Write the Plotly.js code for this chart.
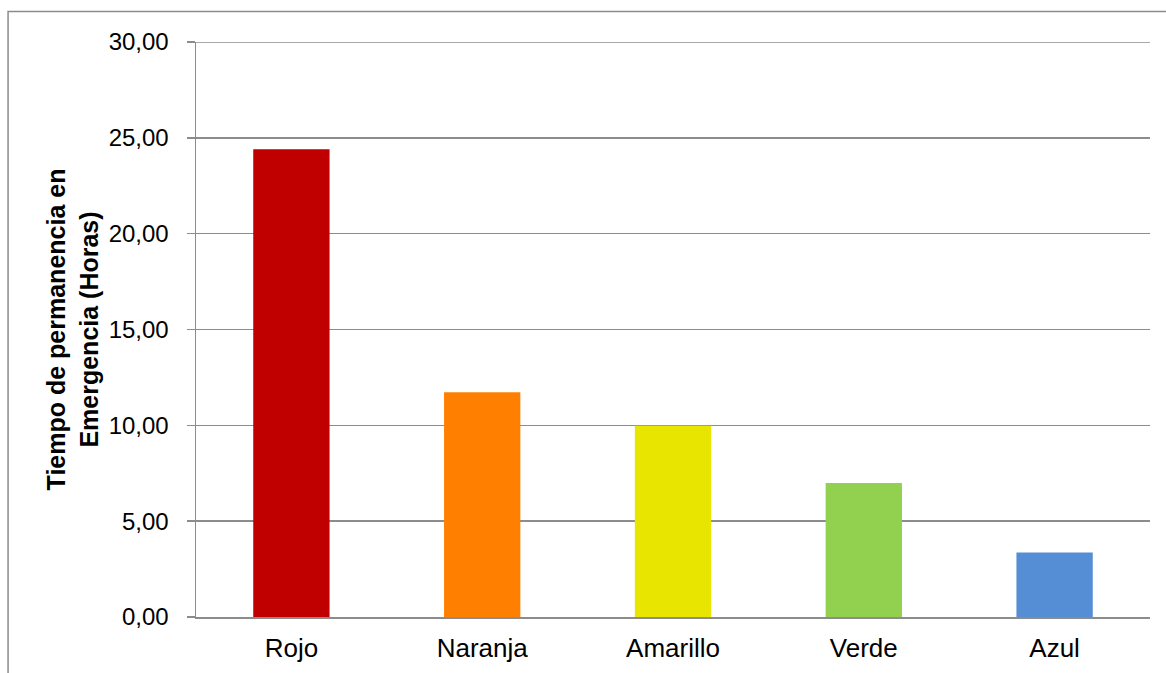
<!DOCTYPE html>
<html>
<head>
<meta charset="utf-8">
<script src="https://cdn.plot.ly/plotly-3.0.1.min.js"></script>
<style>html,body{margin:0;padding:0;background:#fff;}#chart{width:1166px;height:673px;}</style>
</head>
<body>
<div id="chart"></div>
<script>
const categories = ["Rojo", "Naranja", "Amarillo", "Verde", "Azul"];
const values = [24.40, 11.72, 9.98, 6.99, 3.37];
const barColors = ["#C00000", "#FF8000", "#E8E600", "#92D050", "#558ED5"];
const yTickVals = [0, 5, 10, 15, 20, 25, 30];
const yTickText = ["0,00", "5,00", "10,00", "15,00", "20,00", "25,00", "30,00"];
const yTitle = "Tiempo de permanencia en<br>Emergencia (Horas)";

const trace = {
  type: "bar",
  x: categories,
  y: values,
  marker: { color: barColors, line: { width: 0 } },
  hoverinfo: "x+y"
};

const layout = {
  width: 1166,
  height: 673,
  margin: { l: 196, r: 16, t: 42, b: 56, pad: 0 },
  paper_bgcolor: "#ffffff",
  plot_bgcolor: "#ffffff",
  bargap: 0.6,
  showlegend: false,
  font: { family: "Liberation Sans, Arial, sans-serif", color: "#000000", size: 24 },
  xaxis: {
    type: "category",
    showgrid: false,
    showline: true,
    linecolor: "#8c8c8c",
    linewidth: 1.5,
    ticks: "",
    zeroline: false,
    tickfont: { size: 26 },
    ticklabelstandoff: 7
  },
  yaxis: {
    range: [0, 30],
    tickvals: yTickVals,
    ticktext: yTickText,
    showgrid: true,
    gridcolor: "#8c8c8c",
    gridwidth: 1.5,
    showline: true,
    linecolor: "#8c8c8c",
    linewidth: 1.5,
    ticks: "outside",
    ticklen: 8,
    tickcolor: "#8c8c8c",
    tickwidth: 1.5,
    zeroline: false,
    tickfont: { size: 24 },
    ticklabelstandoff: 13,
    title: { text: yTitle, font: { size: 25, family: "Liberation Sans, Arial, sans-serif", weight: "bold" }, standoff: 3 }
  },
  shapes: [
    {
      type: "path",
      xref: "paper",
      yref: "paper",
      path: "M -0.197,-0.2 L -0.197,1.053 L 1.1,1.053",
      line: { color: "#8c8c8c", width: 1.5 }
    },
    {
      type: "line",
      xref: "paper",
      yref: "y",
      x0: 0, x1: 1, y0: 30, y1: 30,
      line: { color: "#8c8c8c", width: 1.5 }
    }
  ]
};

Plotly.newPlot("chart", [trace], layout, { displayModeBar: false, staticPlot: true });
</script>
</body>
</html>
